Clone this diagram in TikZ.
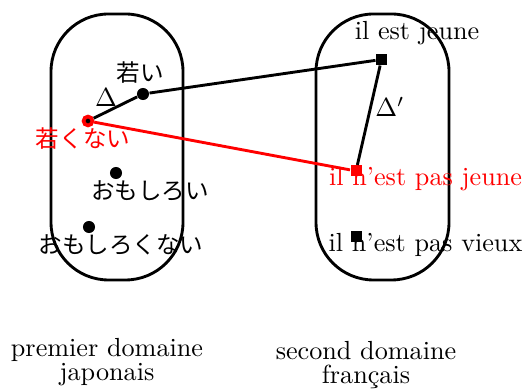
\documentclass[tikz,border=0pt]{standalone}
\usepackage{fontspec}
\newfontfamily\jpfont{Noto Sans CJK JP}
\usetikzlibrary{positioning}

\begin{document}
\begin{tikzpicture}[x=0.382pt,y=-0.382pt]
\tikzset{
  domainbox/.style={draw,line width=1.1pt,rounded corners=22pt},
  jpdot/.style={circle,fill,inner sep=0pt,minimum size=4.6pt},
  frsq/.style={rectangle,fill,inner sep=0pt,minimum size=4.2pt},
  link/.style={line width=1.1pt},
  jplabel/.style={inner sep=0pt,font=\jpfont\fontsize{9}{10}\selectfont},
  frlabel/.style={inner sep=0pt}
}
\useasboundingbox (0,0) rectangle (524,389);
% the two domains
\draw[domainbox] (51,14) rectangle (183,280);
\draw[domainbox] (316,14) rectangle (449,280);
% japanese points
\node[jpdot] (n_wakai) at (143,94) {};
\node[circle,fill=black,draw=red,line width=1.4pt,inner sep=0pt,minimum size=3.4pt] (n_wakakunai) at (88,121) {};
\node[jpdot] (n_omo) at (116,173) {};
\node[jpdot] (n_omonai) at (89,227) {};
\node[jplabel] (t_wakai) at (140,73) {若い};
\node[jplabel,text=red] (t_wakakunai) at (83,139) {若くない};
\node[jplabel] (t_omo) at (150,191) {おもしろい};
\node[jplabel] (t_omonai) at (121,245) {おもしろくない};
% french points
\node[frsq] (n_jeune) at (381.5,59.5) {};
\node[frsq,fill=red] (n_pasjeune) at (356,171) {};
\node[frsq] (n_pasvieux) at (356,237) {};
\node[frlabel] (t_jeune) at (417,33) {il est jeune};
\node[frlabel,text=red] (t_pasjeune) at (425.5,179) {il n'est pas jeune};
\node[frlabel] (t_pasvieux) at (425.5,245) {il n'est pas vieux};
% links
\draw[link] (n_wakakunai) -- (n_wakai);
\draw[link] (n_wakai) -- (n_jeune);
\draw[link] (n_jeune) -- (n_pasjeune);
\draw[link,red] (n_wakakunai) -- (n_pasjeune);
\node[frlabel] (t_delta) at (106,98) {$\Delta$};
\node[frlabel] (t_deltap) at (390,107) {$\Delta'$};
% domain names
\node[align=center,inner sep=0pt] (t_premier) at (107,362) {premier domaine\\[-3pt]japonais};
\node[align=center,inner sep=0pt] (t_second) at (366,365) {second domaine\\[-3pt]français};
\end{tikzpicture}
\end{document}
